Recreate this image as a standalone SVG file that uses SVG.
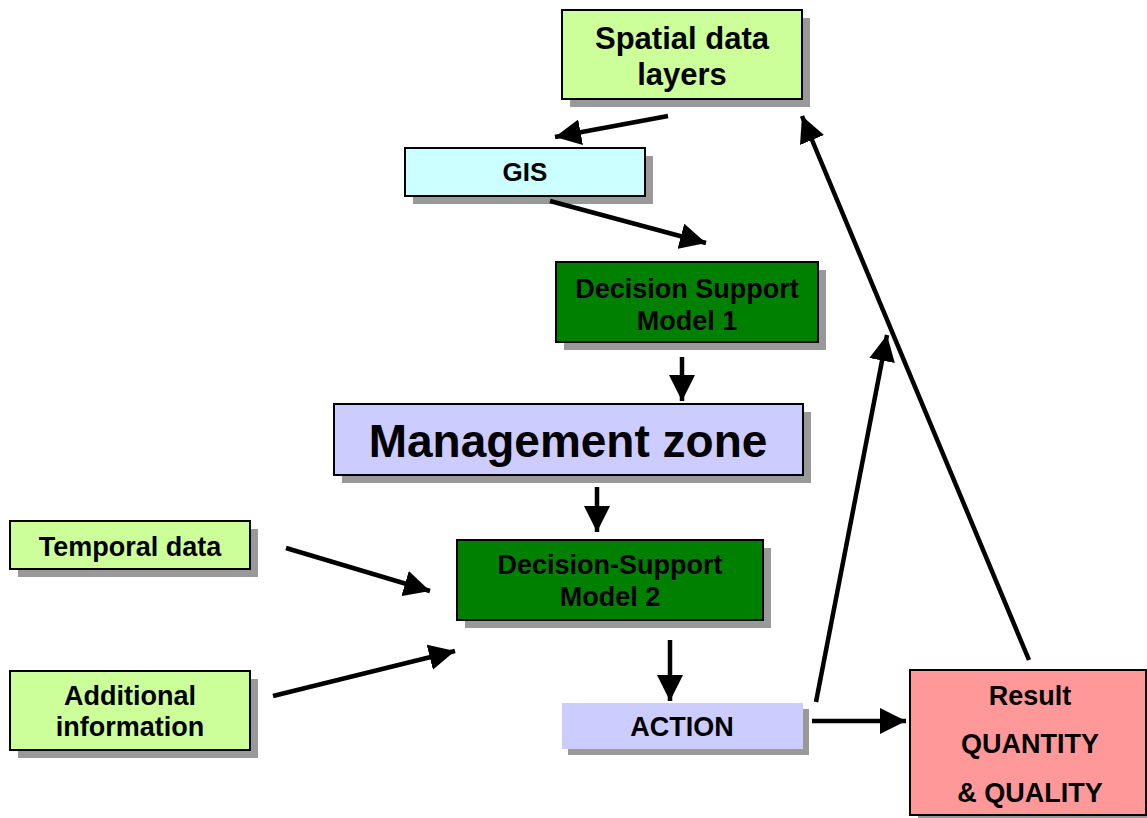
<svg xmlns="http://www.w3.org/2000/svg" width="1147" height="818" viewBox="0 0 1147 818">
<style>
  .shadow { fill: #999999; }
  .box { stroke: #000; stroke-width: 2; }
  .t { font-family: "Liberation Sans", Arial, sans-serif; font-weight: bold; fill: #000; text-anchor: middle; dominant-baseline: central; font-size: 27px; }
  .conn line { stroke: #000; stroke-width: 4.5; }
</style>
<defs>
  <marker id="ah" markerUnits="userSpaceOnUse" markerWidth="28" markerHeight="26" refX="26" refY="13" orient="auto" viewBox="0 0 28 26">
    <path d="M0,0 L26,13 L0,26 Z" fill="#000"/>
  </marker>
</defs>
<rect width="1147" height="818" fill="#fff"/>

<g id="spatial">
  <rect class="shadow" x="570" y="18" width="240" height="89"/>
  <rect class="box" x="562" y="10" width="240" height="89" fill="#CCFF99"/>
  <text class="t" x="682" y="38" style="font-size:31px">Spatial data</text>
  <text class="t" x="682" y="74" style="font-size:31px">layers</text>
</g>

<g id="gis">
  <rect class="shadow" x="413" y="156" width="240" height="48"/>
  <rect class="box" x="405" y="148" width="240" height="48" fill="#CCFFFF"/>
  <text class="t" x="525" y="172" style="font-size:26px">GIS</text>
</g>

<g id="dsm1">
  <rect class="shadow" x="564" y="270" width="262" height="80"/>
  <rect class="box" x="556" y="262" width="262" height="80" fill="#008000"/>
  <text class="t" x="687" y="289">Decision Support</text>
  <text class="t" x="687" y="321">Model 1</text>
</g>

<g id="mzone">
  <rect class="shadow" x="342" y="412" width="469" height="71"/>
  <rect class="box" x="334" y="404" width="469" height="71" fill="#CCCCFF"/>
  <text class="t" x="568" y="441" style="font-size:46px">Management zone</text>
</g>

<g id="temporal">
  <rect class="shadow" x="18" y="529" width="240" height="48"/>
  <rect class="box" x="10" y="521" width="240" height="48" fill="#CCFF99"/>
  <text class="t" x="130" y="547">Temporal data</text>
</g>

<g id="additional">
  <rect class="shadow" x="18" y="679" width="240" height="79"/>
  <rect class="box" x="10" y="671" width="240" height="79" fill="#CCFF99"/>
  <text class="t" x="130" y="696">Additional</text>
  <text class="t" x="130" y="727">information</text>
</g>

<g id="dsm2">
  <rect class="shadow" x="465" y="548" width="306" height="80"/>
  <rect class="box" x="457" y="540" width="306" height="80" fill="#008000"/>
  <text class="t" x="610" y="565">Decision-Support</text>
  <text class="t" x="610" y="597">Model 2</text>
</g>

<g id="action">
  <rect class="shadow" x="568" y="709" width="241" height="46"/>
  <rect x="562" y="703" width="241" height="46" fill="#CCCCFF"/>
  <text class="t" x="682" y="727">ACTION</text>
</g>

<g id="result">
  <rect class="shadow" x="918" y="678" width="236" height="145"/>
  <rect class="box" x="910" y="670" width="236" height="145" fill="#FF9999"/>
  <text class="t" x="1030" y="696">Result</text>
  <text class="t" x="1030" y="744">QUANTITY</text>
  <text class="t" x="1030" y="793">&amp; QUALITY</text>
</g>

<g id="connectors" class="conn">
  <line x1="668" y1="116" x2="555" y2="137" marker-end="url(#ah)"/>
  <line x1="550" y1="201" x2="706" y2="243" marker-end="url(#ah)"/>
  <line x1="682" y1="357" x2="682" y2="401" marker-end="url(#ah)"/>
  <line x1="597" y1="487" x2="597" y2="532" marker-end="url(#ah)"/>
  <line x1="286" y1="548" x2="430" y2="591" marker-end="url(#ah)"/>
  <line x1="273" y1="696" x2="455" y2="651" marker-end="url(#ah)"/>
  <line x1="670" y1="640" x2="670" y2="701" marker-end="url(#ah)"/>
  <line x1="812" y1="721" x2="906" y2="721" marker-end="url(#ah)"/>
  <line x1="816" y1="702" x2="887" y2="335" marker-end="url(#ah)"/>
  <line x1="1029" y1="660" x2="802" y2="116" marker-end="url(#ah)"/>
</g>
</svg>
